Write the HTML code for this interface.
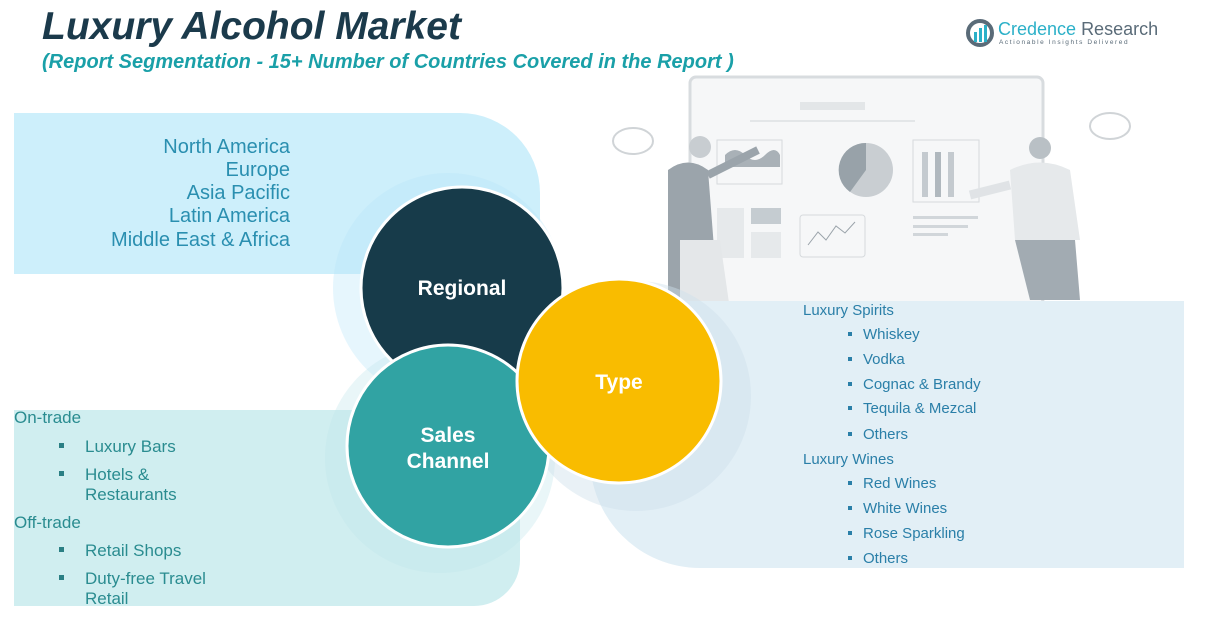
<!DOCTYPE html>
<html><head><meta charset="utf-8"><style>
body{margin:0;width:1220px;height:631px;background:#fff;position:relative;overflow:hidden;font-family:"Liberation Sans",sans-serif}
.a{position:absolute;white-space:nowrap}
.reg{right:930px;font-size:20px;color:#2a8fb0;text-align:right}
.sl{font-size:17px;color:#2a8c90}
.tl{font-size:15px;color:#2a7fa8}
.b{position:absolute;width:5px;height:5px}
</style></head><body>
<div class="a" style="left:42px;top:5px;font-size:39px;font-weight:bold;font-style:italic;color:#1b3a4b">Luxury Alcohol Market</div>
<div class="a" style="left:42px;top:51px;font-size:20px;font-weight:bold;font-style:italic;color:#1aa0a8">(Report Segmentation - 15+ Number of Countries Covered in the Report )</div>
<svg class="a" style="left:965px;top:18px" width="30" height="32"><circle cx="15" cy="15" r="12" fill="none" stroke="#5a6b78" stroke-width="4"/><rect x="9" y="14" width="3" height="10" fill="#2bb0c8"/><rect x="14" y="10" width="3" height="14" fill="#2bb0c8"/><rect x="19" y="7" width="3" height="17" fill="#2bb0c8"/></svg>
<div class="a" style="left:998px;top:19px;font-size:18px;color:#2bb0c8">Credence <span style="color:#5a6b78">Research</span></div>
<div class="a" style="left:999px;top:39px;font-size:6.5px;letter-spacing:1.6px;color:#5a6b78">Actionable Insights Delivered</div>

<svg class="a" style="left:0;top:0" width="1220" height="631">
<rect x="690" y="77" width="353" height="228" rx="6" fill="#f6f7f8" stroke="#d8dcdf" stroke-width="3"/>
<rect x="800" y="102" width="65" height="8" fill="#e3e6e8"/>
<rect x="750" y="120" width="165" height="2" fill="#e3e6e8"/>
<rect x="717" y="140" width="65" height="44" fill="none" stroke="#d6dadd"/>
<path d="M725 155 q10-10 20 0 t20 0 t15 0 v12 h-55z" fill="#a9b1b7"/>
<circle cx="866" cy="170" r="27" fill="#c9ced2"/><path d="M866 170 L866 143 A27 27 0 0 0 850 192z" fill="#98a2a9"/>
<rect x="913" y="140" width="66" height="62" fill="none" stroke="#d6dadd"/>
<rect x="922" y="152" width="6" height="45" fill="#c4cacf"/><rect x="935" y="152" width="6" height="45" fill="#b0b8be"/><rect x="948" y="152" width="6" height="45" fill="#c4cacf"/>
<rect x="717" y="208" width="27" height="50" fill="#e6e9eb"/><rect x="751" y="208" width="30" height="16" fill="#c5ccd1"/><rect x="751" y="232" width="30" height="26" fill="#e6e9eb"/>
<rect x="800" y="215" width="65" height="42" rx="3" fill="none" stroke="#d6dadd"/>
<polyline points="808,245 818,232 826,240 836,226 845,233 855,222" fill="none" stroke="#9aa3aa"/>
<rect x="913" y="216" width="65" height="3" fill="#d1d6da"/><rect x="913" y="225" width="55" height="3" fill="#d1d6da"/><rect x="913" y="233" width="35" height="3" fill="#d1d6da"/>
<ellipse cx="633" cy="141" rx="20" ry="13" fill="#fff" stroke="#d0d4d7" stroke-width="2"/>
<ellipse cx="1110" cy="126" rx="20" ry="13" fill="#fff" stroke="#d0d4d7" stroke-width="2"/>
<path d="M668 170 q20-15 40 0 l10 130 h-50z" fill="#9ba4ab"/>
<circle cx="700" cy="147" r="11" fill="#c8cdd1"/>
<path d="M708 175 l50 -25" stroke="#9ba4ab" stroke-width="8"/>
<path d="M680 240 l40 0 l10 70 h-50z" fill="#e4e7e9"/>
<circle cx="1040" cy="148" r="11" fill="#b9c0c5"/>
<path d="M1010 170 q30-15 60 0 l10 70 h-65z" fill="#e6e9eb"/>
<path d="M1015 240 h60 l5 60 h-50z" fill="#a2abb2"/>
<path d="M1010 185 l-40 10" stroke="#e0e3e6" stroke-width="9"/>
<path d="M14 113 H460 A80 80 0 0 1 540 193 V274 H14z" fill="#cdeffb"/>
<path d="M14 410 H520 V560 A46 46 0 0 1 474 606 H14z" fill="#d0eef0"/>
<path d="M660 301 H1184 V568 H700 A110 110 0 0 1 590 458 V380z" fill="#e2eff6"/>
<circle cx="448" cy="288" r="115" fill="#b8e6f8" opacity="0.35"/>
<circle cx="440" cy="458" r="115" fill="#bfe6ea" opacity="0.35"/>
<circle cx="636" cy="396" r="115" fill="#cfe1ea" opacity="0.45"/>
<circle cx="462" cy="288" r="101" fill="#173b4a" stroke="#fff" stroke-width="3"/>
<circle cx="448" cy="446" r="101" fill="#31a3a3" stroke="#fff" stroke-width="3"/>
<circle cx="619" cy="381" r="102" fill="#f9bc00" stroke="#fff" stroke-width="3"/>
<g font-family="Liberation Sans" font-weight="bold" font-size="21" fill="#fff" text-anchor="middle">
<text x="462" y="295">Regional</text>
<text x="448" y="442">Sales</text><text x="448" y="468">Channel</text>
<text x="619" y="389">Type</text>
</g>
</svg>

<div class="a reg" style="top:136px">North America</div>
<div class="a reg" style="top:159px">Europe</div>
<div class="a reg" style="top:182px">Asia Pacific</div>
<div class="a reg" style="top:205px">Latin America</div>
<div class="a reg" style="top:229px">Middle East &amp; Africa</div>

<div class="a sl" style="left:14px;top:408px">On-trade</div>
<div class="b" style="left:59px;top:443px;background:#2a7f84"></div><div class="a sl" style="left:85px;top:437px">Luxury Bars</div>
<div class="b" style="left:59px;top:471px;background:#2a7f84"></div><div class="a sl" style="left:85px;top:465px;line-height:20px">Hotels &amp;<br>Restaurants</div>
<div class="a sl" style="left:14px;top:513px">Off-trade</div>
<div class="b" style="left:59px;top:547px;background:#2a7f84"></div><div class="a sl" style="left:85px;top:541px">Retail Shops</div>
<div class="b" style="left:59px;top:575px;background:#2a7f84"></div><div class="a sl" style="left:85px;top:569px;line-height:20px">Duty-free Travel<br>Retail</div>

<div class="a tl" style="left:803px;top:302px">Luxury Spirits</div>
<div class="b" style="left:848px;top:332px;width:4px;height:4px;background:#2a7fa8"></div><div class="a tl" style="left:863px;top:326px">Whiskey</div>
<div class="b" style="left:848px;top:357px;width:4px;height:4px;background:#2a7fa8"></div><div class="a tl" style="left:863px;top:351px">Vodka</div>
<div class="b" style="left:848px;top:382px;width:4px;height:4px;background:#2a7fa8"></div><div class="a tl" style="left:863px;top:376px">Cognac &amp; Brandy</div>
<div class="b" style="left:848px;top:406px;width:4px;height:4px;background:#2a7fa8"></div><div class="a tl" style="left:863px;top:400px">Tequila &amp; Mezcal</div>
<div class="b" style="left:848px;top:432px;width:4px;height:4px;background:#2a7fa8"></div><div class="a tl" style="left:863px;top:426px">Others</div>
<div class="a tl" style="left:803px;top:451px">Luxury Wines</div>
<div class="b" style="left:848px;top:481px;width:4px;height:4px;background:#2a7fa8"></div><div class="a tl" style="left:863px;top:475px">Red Wines</div>
<div class="b" style="left:848px;top:506px;width:4px;height:4px;background:#2a7fa8"></div><div class="a tl" style="left:863px;top:500px">White Wines</div>
<div class="b" style="left:848px;top:531px;width:4px;height:4px;background:#2a7fa8"></div><div class="a tl" style="left:863px;top:525px">Rose Sparkling</div>
<div class="b" style="left:848px;top:556px;width:4px;height:4px;background:#2a7fa8"></div><div class="a tl" style="left:863px;top:550px">Others</div>
</body></html>
